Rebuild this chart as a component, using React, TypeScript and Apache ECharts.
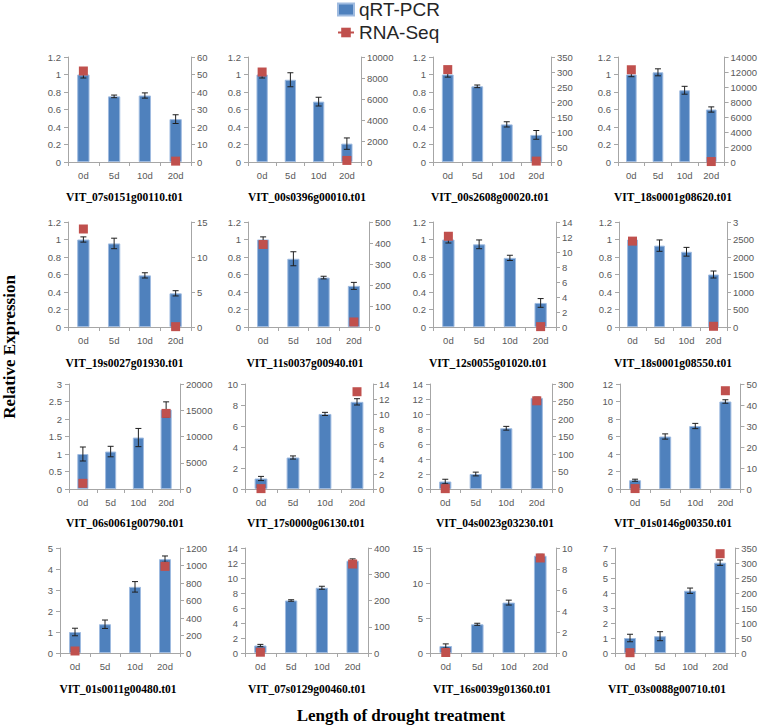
import { useEffect, useRef } from 'react';
import * as echarts from 'echarts';

// ---------- DATA ----------
const categories = ['0d', '5d', '10d', '20d'];

const geneIds = [
  'VIT_07s0151g00110.t01', 'VIT_00s0396g00010.t01', 'VIT_00s2608g00020.t01', 'VIT_18s0001g08620.t01',
  'VIT_19s0027g01930.t01', 'VIT_11s0037g00940.t01', 'VIT_12s0055g01020.t01', 'VIT_18s0001g08550.t01',
  'VIT_06s0061g00790.t01', 'VIT_17s0000g06130.t01', 'VIT_04s0023g03230.t01', 'VIT_01s0146g00350.t01',
  'VIT_01s0011g00480.t01', 'VIT_07s0129g00460.t01', 'VIT_16s0039g01360.t01', 'VIT_03s0088g00710.t01',
];

// qRT-PCR relative expression (bars)
const qpcrMeans = [
  [1.0, 0.75, 0.76, 0.49],
  [1.0, 0.94, 0.69, 0.21],
  [1.0, 0.865, 0.43, 0.31],
  [1.0, 1.025, 0.82, 0.6],
  [1.0, 0.955, 0.59, 0.385],
  [1.0, 0.78, 0.565, 0.47],
  [1.0, 0.945, 0.79, 0.275],
  [1.0, 0.93, 0.86, 0.6],
  [1.0, 1.07, 1.47, 2.27],
  [1.0, 3.0, 7.15, 8.3],
  [1.0, 2.0, 8.1, 12.15],
  [1.0, 6.0, 7.2, 10.0],
  [1.0, 1.37, 3.15, 4.47],
  [1.0, 7.0, 8.7, 12.3],
  [1.0, 4.1, 7.2, 13.9],
  [1.0, 1.12, 4.15, 6.02],
];

// qRT-PCR error (± half-range)
const qpcrErrors = [
  [0.04, 0.015, 0.03, 0.05],
  [0.04, 0.08, 0.05, 0.065],
  [0.03, 0.015, 0.03, 0.05],
  [0.025, 0.04, 0.045, 0.03],
  [0.03, 0.06, 0.03, 0.03],
  [0.03, 0.08, 0.015, 0.04],
  [0.04, 0.05, 0.03, 0.05],
  [0.02, 0.065, 0.05, 0.04],
  [0.2, 0.15, 0.26, 0.22],
  [0.2, 0.15, 0.15, 0.3],
  [0.3, 0.25, 0.25, 0.1],
  [0.12, 0.3, 0.3, 0.2],
  [0.18, 0.2, 0.25, 0.15],
  [0.15, 0.1, 0.2, 0.25],
  [0.3, 0.15, 0.35, 0.2],
  [0.25, 0.3, 0.18, 0.18],
];

// RNA-Seq values (right axis), only 0d and 20d measured
const rnaSeqValues = [
  [52, null, null, 0.5],
  [8570, null, null, 150],
  [308, null, null, 3],
  [12300, null, null, 60],
  [14.0, null, null, 0.05],
  [393, null, null, 24],
  [12.1, null, null, 0.05],
  [2454, null, null, 20],
  [1080, null, null, 14400],
  [0.05, null, null, 12.97],
  [1, null, null, 252],
  [0.2, null, null, 46.8],
  [23, null, null, 990],
  [3, null, null, 339],
  [0.05, null, null, 9.05],
  [1, null, null, 331],
];

const leftAxisMax = [1.2, 1.2, 1.2, 1.2, 1.2, 1.2, 1.2, 1.2, 3, 10, 14, 12, 5, 14, 15, 7];
const leftAxisStep = [0.2, 0.2, 0.2, 0.2, 0.2, 0.2, 0.2, 0.2, 0.5, 2, 2, 2, 1, 2, 5, 1];
const rightAxisMax = [60, 10000, 350, 14000, 15, 500, 14, 3000, 20000, 14, 300, 50, 1200, 400, 10, 350];
const rightAxisStep = [10, 2000, 50, 2000, 5, 100, 2, 500, 5000, 2, 50, 10, 200, 100, 2, 50];
// tick label shown at the top of the right axis where the figure shows a shortened one
const rightAxisTopLabel: (string | null)[] = [null, null, null, null, null, null, null, '3', null, null, null, null, null, null, null, null];

const legendNames = ['qRT-PCR', 'RNA-Seq'];
const yAxisTitle = 'Relative Expression';
const xAxisTitle = 'Length of drought treatment';

// ---------- LAYOUT ----------
const panelX = [
  [68, 191], [248, 361], [433, 551], [618, 727],
  [68, 191], [248, 369], [433, 556], [619, 727],
  [69, 180], [245, 373], [430, 552], [620, 742],
  [60, 180], [245, 368], [430, 556], [615, 740],
];
const rowTops = [57, 222, 384, 548];
const plotH = 105;
const titleCx = [124.5, 307, 490, 673, 124.5, 305, 488, 673, 125, 306, 495, 673, 118, 307, 492, 667];
const titleY = [197, 363, 523, 689];

const AXIS_COLOR = '#a6a6a6';
const LABEL_COLOR = '#595959';
const BAR_COLOR = '#4f81bd';
const RNA_COLOR = '#c0504d';
const LABEL_FONT = 'Liberation Sans';

const fmt = (v: number) => String(+v.toFixed(2));

export default function App() {
  const ref = useRef<HTMLDivElement>(null);

  useEffect(() => {
    if (!ref.current) return;
    const chart = echarts.init(ref.current, null, { renderer: 'svg' });

    const grid: any[] = [];
    const xAxis: any[] = [];
    const yAxis: any[] = [];
    const series: any[] = [];
    const graphic: any[] = [];

    geneIds.forEach((gene, p) => {
      const row = Math.floor(p / 4);
      const [x0, x1] = panelX[p];
      grid.push({ left: x0, top: rowTops[row], width: x1 - x0, height: plotH, containLabel: false });
      xAxis.push({
        type: 'category',
        gridIndex: p,
        data: categories,
        boundaryGap: true,
        axisLine: { show: true, lineStyle: { color: AXIS_COLOR, width: 1 } },
        axisTick: { show: true, length: 4, lineStyle: { color: AXIS_COLOR } },
        axisLabel: { color: LABEL_COLOR, fontSize: 9.5, fontFamily: LABEL_FONT, margin: 8 },
        splitLine: { show: false },
      });
      yAxis.push({
        type: 'value',
        gridIndex: p,
        position: 'left',
        min: 0,
        max: leftAxisMax[p],
        interval: leftAxisStep[p],
        axisLine: { show: true, lineStyle: { color: AXIS_COLOR, width: 1 } },
        axisTick: { show: true, length: 4, lineStyle: { color: AXIS_COLOR } },
        axisLabel: { color: LABEL_COLOR, fontSize: 9.5, fontFamily: LABEL_FONT, margin: 7, formatter: fmt },
        splitLine: { show: false },
      });
      const topLabel = rightAxisTopLabel[p];
      const rMax = rightAxisMax[p];
      yAxis.push({
        type: 'value',
        gridIndex: p,
        position: 'right',
        min: 0,
        max: rMax,
        interval: rightAxisStep[p],
        axisLine: { show: true, lineStyle: { color: AXIS_COLOR, width: 1 } },
        axisTick: { show: true, length: 4, lineStyle: { color: AXIS_COLOR } },
        axisLabel: {
          color: LABEL_COLOR, fontSize: 9.5, fontFamily: LABEL_FONT, margin: 6,
          formatter: (v: number) => (topLabel && v === rMax ? topLabel : fmt(v)),
        },
        splitLine: { show: false },
      });

      series.push({
        name: 'qRT-PCR',
        type: 'bar',
        xAxisIndex: p,
        yAxisIndex: 2 * p,
        data: qpcrMeans[p],
        barWidth: '40%',
        itemStyle: { color: BAR_COLOR, borderColor: '#9fbbe0', borderWidth: 1 },
        z: 2,
      });
      series.push({
        name: 'err' + p,
        type: 'custom',
        xAxisIndex: p,
        yAxisIndex: 2 * p,
        data: qpcrMeans[p].map((m, i) => [i, m, qpcrErrors[p][i]]),
        encode: { x: 0, y: 1 },
        z: 3,
        silent: true,
        renderItem: (_params: any, api: any) => {
          const i = api.value(0);
          const v = api.value(1);
          const e = api.value(2);
          const top = api.coord([i, v + e]);
          const bot = api.coord([i, Math.max(0, v - e)]);
          const hw = 3;
          const style = { stroke: '#1f1f1f', lineWidth: 1 };
          return {
            type: 'group',
            children: [
              { type: 'line', shape: { x1: top[0], y1: top[1], x2: bot[0], y2: bot[1] }, style },
              { type: 'line', shape: { x1: top[0] - hw, y1: top[1], x2: top[0] + hw, y2: top[1] }, style },
              { type: 'line', shape: { x1: bot[0] - hw, y1: bot[1], x2: bot[0] + hw, y2: bot[1] }, style },
            ],
          };
        },
      });
      series.push({
        name: 'RNA-Seq',
        type: 'line',
        xAxisIndex: p,
        yAxisIndex: 2 * p + 1,
        data: rnaSeqValues[p],
        connectNulls: false,
        symbol: 'rect',
        symbolSize: 9,
        showSymbol: true,
        itemStyle: { color: RNA_COLOR },
        lineStyle: { color: RNA_COLOR, width: 1.5 },
        z: 5,
      });

      graphic.push({
        type: 'text',
        x: titleCx[p],
        y: titleY[row],
        style: {
          text: gene,
          font: 'bold 11.5px "Liberation Serif"',
          fill: '#000',
          textAlign: 'center',
          textVerticalAlign: 'middle',
        },
      });
    });

    graphic.push({
      type: 'text',
      x: 9,
      y: 347,
      rotation: Math.PI / 2,
      style: {
        text: yAxisTitle,
        font: 'bold 17px "Liberation Serif"',
        fill: '#000',
        textAlign: 'center',
        textVerticalAlign: 'middle',
      },
    });
    graphic.push({
      type: 'text',
      x: 401,
      y: 715,
      style: {
        text: xAxisTitle,
        font: 'bold 17px "Liberation Serif"',
        fill: '#000',
        textAlign: 'center',
        textVerticalAlign: 'middle',
      },
    });

    chart.setOption({
      animation: false,
      backgroundColor: '#ffffff',
      legend: {
        data: [{ name: legendNames[0], icon: 'rect' }, { name: legendNames[1] }],
        orient: 'vertical',
        left: 337,
        top: 0,
        padding: 0,
        itemWidth: 16,
        itemHeight: 12,
        itemGap: 4,
        selectedMode: false,
        textStyle: { fontSize: 19, color: '#262626', fontFamily: LABEL_FONT, padding: [0, 0, 0, 0] },
      },
      grid,
      xAxis,
      yAxis,
      series,
      graphic,
    });

    return () => chart.dispose();
  }, []);

  return <div ref={ref} style={{ position: 'absolute', left: 0, top: 0, width: 760, height: 728 }} />;
}
